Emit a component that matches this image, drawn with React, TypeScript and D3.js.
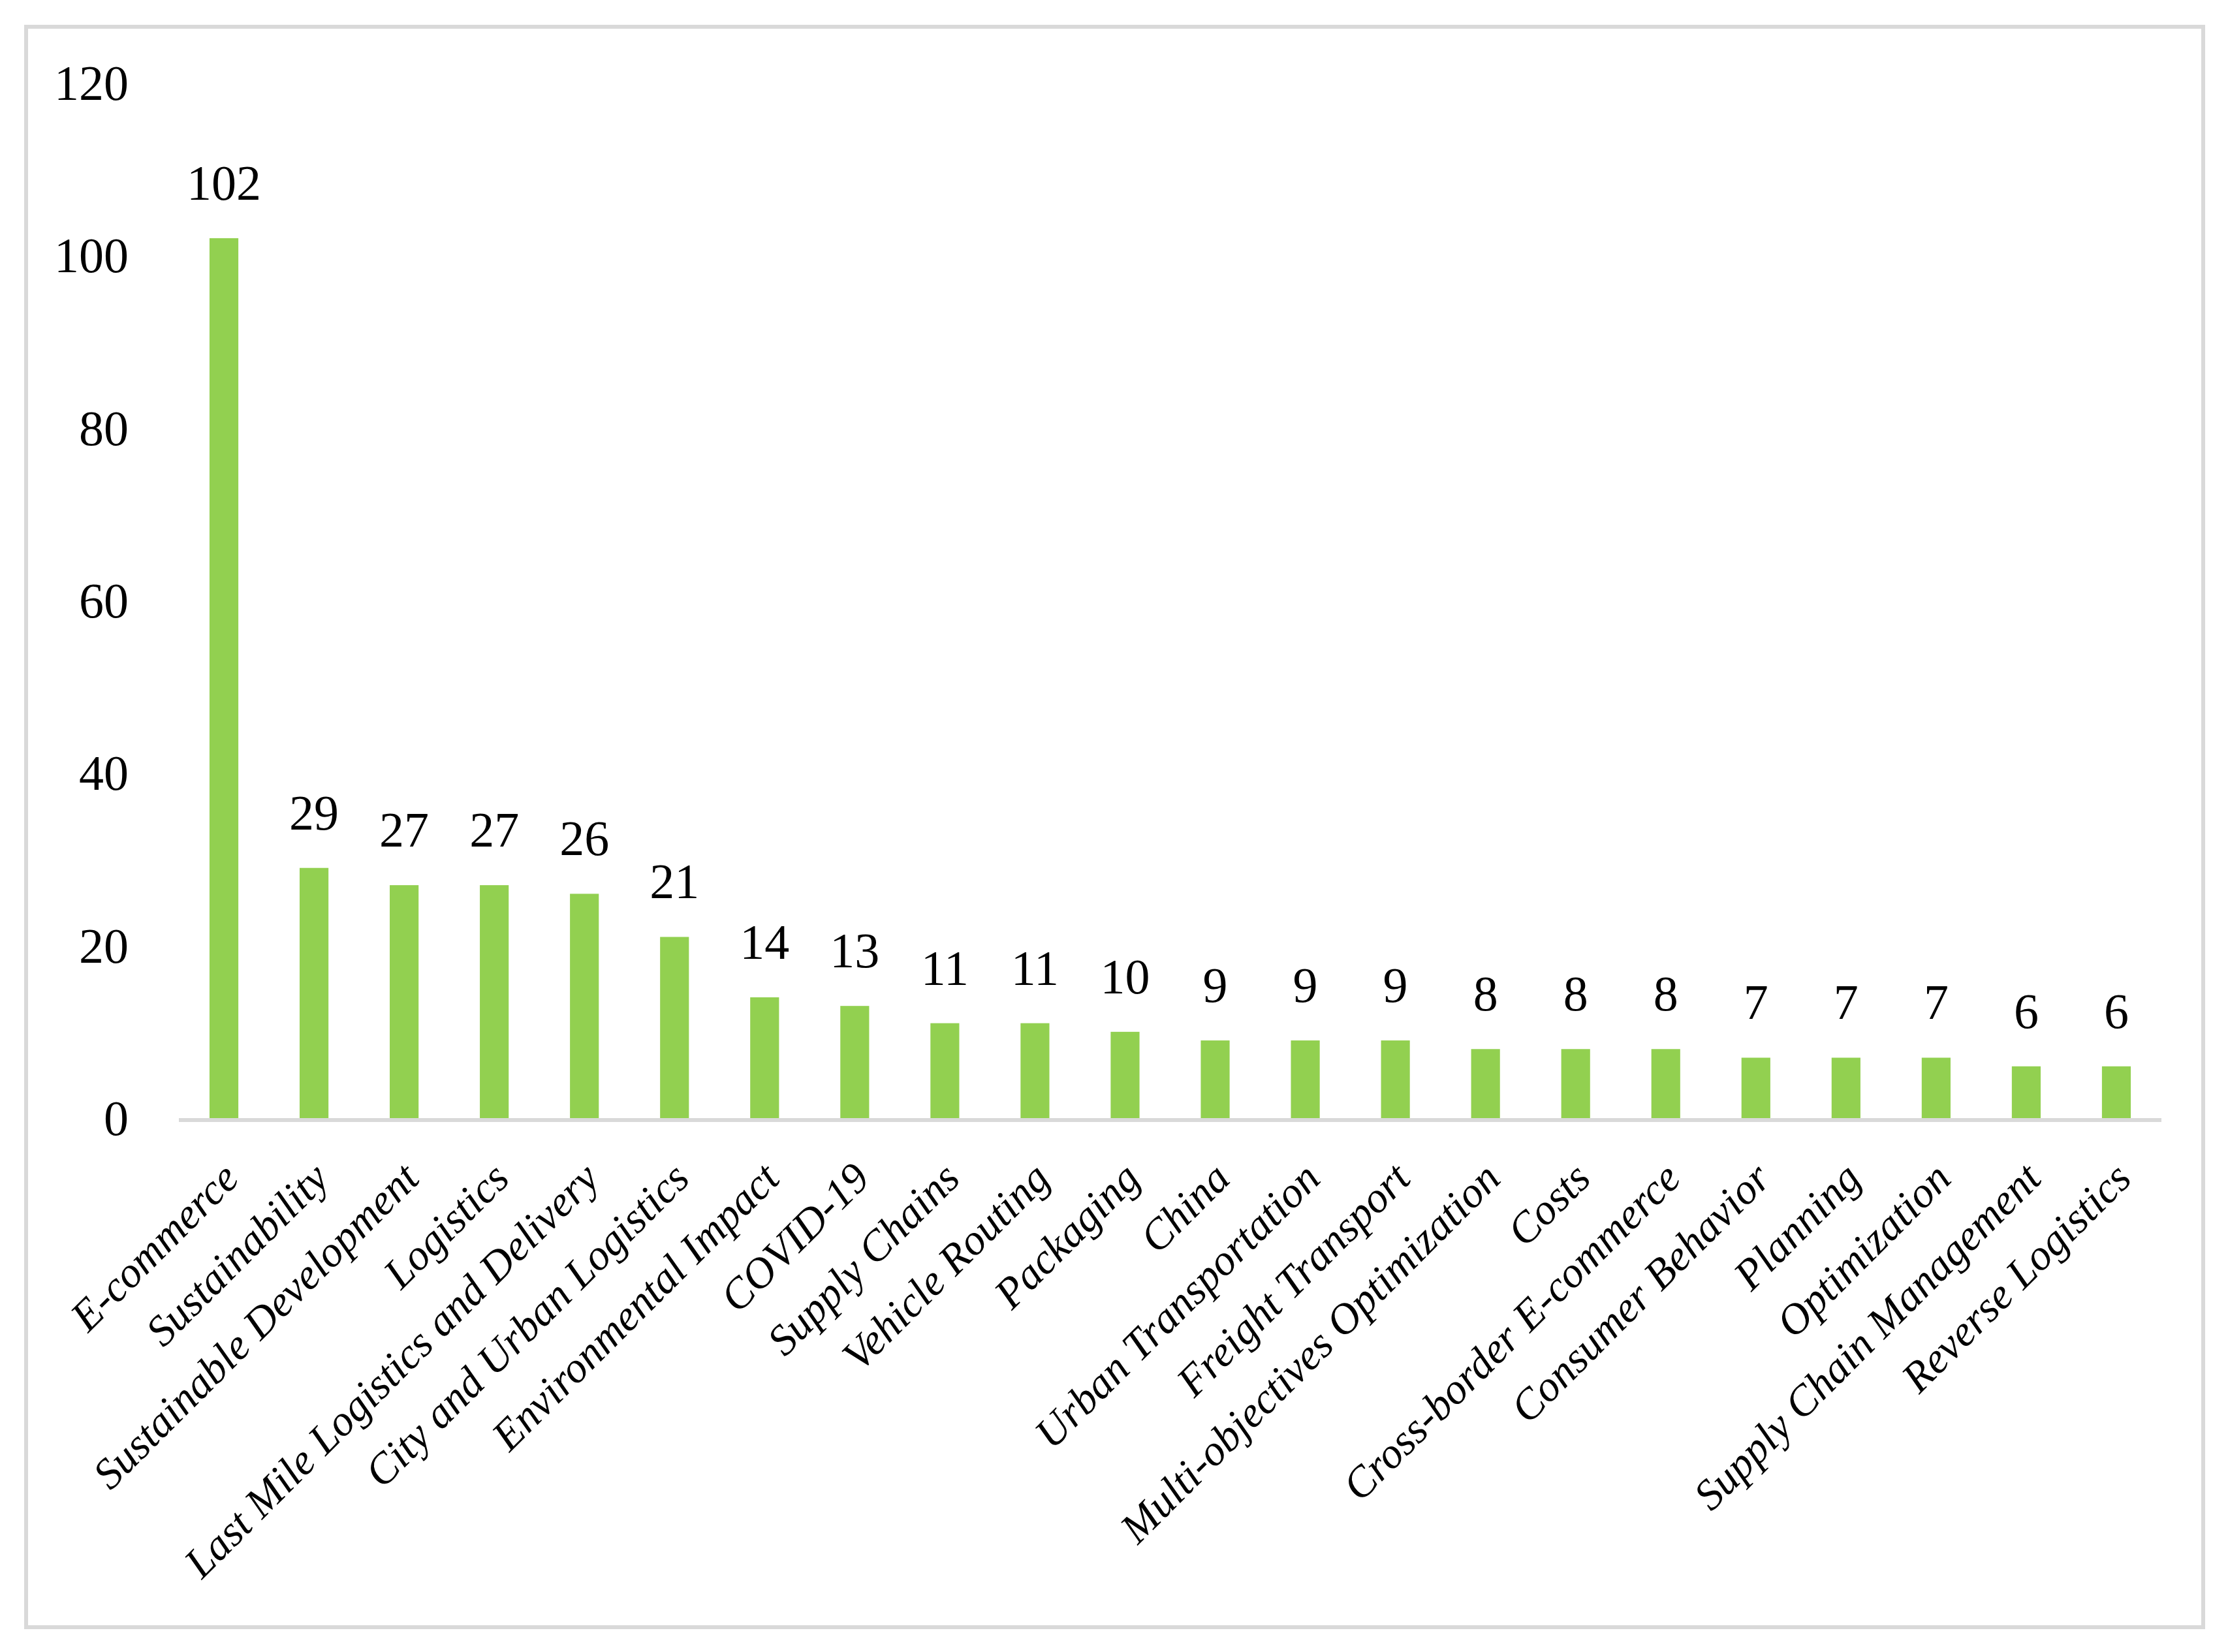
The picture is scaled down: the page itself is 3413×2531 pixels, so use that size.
import React from "react";
import * as d3 from "d3";

const categories = [
  "E-commerce",
  "Sustainability",
  "Sustainable Development",
  "Logistics",
  "Last Mile Logistics and Delivery",
  "City and Urban Logistics",
  "Environmental Impact",
  "COVID-19",
  "Supply Chains",
  "Vehicle Routing",
  "Packaging",
  "China",
  "Urban Transportation",
  "Freight Transport",
  "Multi-objectives Optimization",
  "Costs",
  "Cross-border E-commerce",
  "Consumer Behavior",
  "Planning",
  "Optimization",
  "Supply Chain Management",
  "Reverse Logistics",
];

const values = [102, 29, 27, 27, 26, 21, 14, 13, 11, 11, 10, 9, 9, 9, 8, 8, 8, 7, 7, 7, 6, 6];

const yTicks = [0, 20, 40, 60, 80, 100, 120];

const W = 3413;
const H = 2531;

export default function App() {
  const x = d3
    .scaleBand<string>()
    .domain(categories)
    .range([274, 3311])
    .paddingInner(0.68)
    .paddingOuter(0.34);
  const y = d3.scaleLinear().domain([0, 120]).range([1713, 127]);
  const numFont = 76;
  const labFont = 66;
  return (
    <svg
      width={W}
      height={H}
      style={{ position: "absolute", left: 0, top: 0, background: "#fff" }}
    >
      <rect x={0} y={0} width={W} height={H} fill="#fff" />
      <rect
        x={40}
        y={41}
        width={3335}
        height={2452}
        fill="none"
        stroke="#d9d9d9"
        strokeWidth={6}
      />
      {yTicks.map((t) => (
        <text
          key={t}
          x={197}
          y={y(t) + 26}
          textAnchor="end"
          fontFamily="'Liberation Serif', serif"
          fontSize={numFont}
          fill="#000"
        >
          {t}
        </text>
      ))}
      {categories.map((c, i) => {
        const bx = x(c)!;
        const cx = bx + x.bandwidth() / 2;
        return (
          <g key={c}>
            <rect
              x={bx}
              y={y(values[i])}
              width={x.bandwidth()}
              height={y(0) - y(values[i])}
              fill="#92d050"
            />
            <text
              x={cx}
              y={y(values[i]) - 59}
              textAnchor="middle"
              fontFamily="'Liberation Serif', serif"
              fontSize={numFont}
              fill="#000"
            >
              {values[i]}
            </text>
            <text
              transform={`translate(${cx + 26},${1809}) rotate(-45)`}
              textAnchor="end"
              fontFamily="'Liberation Serif', serif"
              fontStyle="italic"
              fontSize={labFont}
              fill="#000"
            >
              {c}
            </text>
          </g>
        );
      })}
      <line x1={274} x2={3311} y1={1716} y2={1716} stroke="#d9d9d9" strokeWidth={6} />
    </svg>
  );
}
